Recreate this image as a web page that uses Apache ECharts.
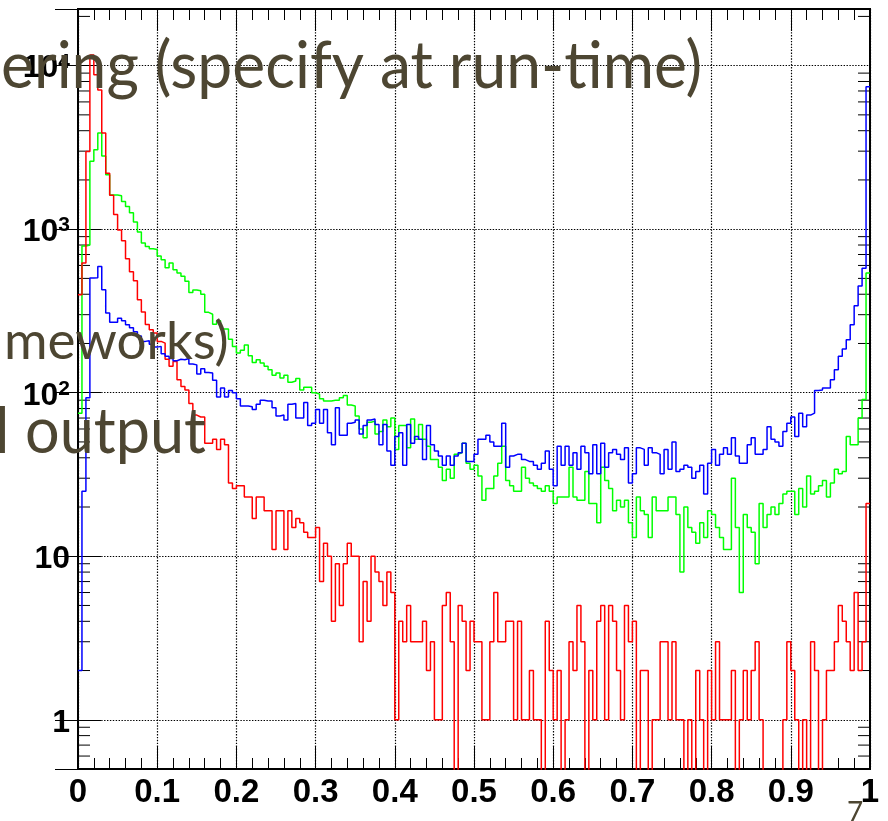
<!DOCTYPE html>
<html>
<head>
<meta charset="utf-8">
<script src="https://cdn.jsdelivr.net/npm/echarts@6/dist/echarts.min.js"></script>
<style>
  html, body { margin: 0; padding: 0; background: #ffffff; }
  #chart { width: 888px; height: 821px; }
</style>
</head>
<body>
<div id="chart"></div>
<script>
// 200 bins of width 0.005 on [0, 1]; counts per bin for the three histograms
const binWidth = 0.005;

const redCounts = [
  397, 621, 2980, 11600, 8800, 7100, 3870, 2200, 1610, 1230, 990, 850, 660, 550, 483, 370, 312, 261, 243, 232,
  206, 201, 160, 145, 155, 120, 109, 104, 86, 73, 71, 71, 49, 49, 52, 45, 52, 48, 28, 26,
  27, 27, 23, 23, 17, 23, 23, 19, 19, 11, 19, 19, 11, 19, 15, 17, 16, 14, 13, 13,
  15, 7, 12, 10, 4, 9, 5, 9, 12, 10, 10, 3, 7, 4, 10, 8, 7, 5, 8, 6,
  1, 4, 3, 5, 3, 3, 3, 4, 2, 3, 1, 1, 5, 6, 3, 0, 5, 4, 2, 4,
  3, 3, 1, 1, 3, 6, 3, 3, 4, 4, 1, 4, 1, 1, 2, 1, 1, 0, 4, 2,
  1, 2, 0, 1, 3, 2, 5, 3, 0, 2, 1, 4, 5, 1, 5, 4, 2, 1, 5, 3,
  4, 0, 2, 2, 0, 1, 1, 3, 3, 1, 3, 1, 1, 0, 1, 0, 2, 1, 0, 2,
  1, 3, 1, 1, 1, 2, 0, 1, 2, 1, 2, 3, 1, 0, 0, 0, 0, 0, 1, 3,
  2, 1, 0, 1, 0, 3, 2, 0, 1, 2, 2, 3, 5, 4, 3, 2, 6, 2, 3, 21
];

const greenCounts = [
  75, 790, 800, 2600, 3060, 3870, 2800, 2150, 1620, 1620, 1600, 1475, 1375, 1260, 1105, 960, 822, 783, 760, 750,
  685, 650, 580, 620, 565, 540, 515, 480, 410, 425, 420, 400, 310, 302, 262, 275, 245, 245, 212, 192,
  175, 182, 196, 168, 153, 159, 152, 145, 138, 128, 132, 123, 128, 116, 118, 122, 104, 108, 108, 100,
  98, 92, 89, 89, 90, 90, 93, 96, 84, 83, 72, 60, 53, 66, 67, 56, 58, 68, 62, 70,
  45, 63, 63, 46, 69, 52, 64, 52, 47, 39, 39, 35, 29, 34, 30, 42, 43, 49, 37, 34,
  36, 31, 22, 26, 26, 31, 37, 47, 29, 27, 25, 25, 35, 30, 28, 27, 26, 25, 27, 25,
  21, 23, 23, 23, 35, 23, 22, 22, 33, 21, 21, 16, 35, 29, 26, 19, 22, 20, 22, 16,
  13, 23, 19, 18, 13, 23, 19, 19, 19, 23, 23, 18, 8, 20, 15, 14, 12, 16, 13, 19,
  18, 15, 13, 11, 11, 30, 15, 6, 18, 15, 14, 9, 21, 15, 18, 20, 18, 21, 24, 25,
  25, 18, 26, 20, 31, 24, 25, 27, 29, 23, 28, 34, 32, 33, 54, 48, 48, 70, 91, 540
];

const blueCounts = [
  2, 25, 93, 502, 505, 591, 426, 307, 270, 270, 285, 275, 260, 250, 236, 222, 206, 208, 198, 190,
  192, 173, 167, 162, 157, 160, 159, 162, 150, 148, 130, 140, 133, 132, 119, 94, 107, 94, 103, 100,
  92, 83, 83, 82, 79, 85, 90, 89, 89, 81, 72, 73, 68, 85, 86, 70, 70, 87, 63, 65,
  79, 65, 79, 57, 48, 81, 55, 55, 65, 66, 68, 56, 63, 68, 69, 64, 48, 64, 44, 36,
  54, 57, 36, 64, 49, 54, 52, 39, 63, 48, 44, 41, 36, 41, 36, 41, 43, 49, 38, 38,
  42, 52, 52, 55, 50, 47, 47, 65, 35, 41, 42, 42, 39, 38, 38, 36, 34, 37, 44, 34,
  27, 47, 36, 47, 36, 43, 34, 47, 43, 32, 48, 32, 49, 35, 43, 45, 42, 39, 46, 28,
  32, 46, 45, 36, 46, 43, 42, 32, 45, 34, 50, 33, 34, 36, 35, 30, 33, 36, 24, 37,
  45, 36, 42, 46, 42, 53, 41, 37, 37, 48, 53, 42, 42, 45, 62, 52, 50, 47, 58, 65,
  71, 54, 75, 62, 73, 75, 103, 104, 107, 107, 120, 138, 167, 185, 211, 260, 340, 450, 577, 7440
];

// axis tick labels
const xTickLabels = ['0', '0.1', '0.2', '0.3', '0.4', '0.5', '0.6', '0.7', '0.8', '0.9', '1'];
const yTickBases = ['1', '10', '10', '10', '10'];
const yTickExponents = ['', '', '2', '3', '4'];
// minor tick positions on the logarithmic axis
const yMinorTicks = [
  0.6, 0.7, 0.8, 0.9,
  2, 3, 4, 5, 6, 7, 8, 9,
  20, 30, 40, 50, 60, 70, 80, 90,
  200, 300, 400, 500, 600, 700, 800, 900,
  2000, 3000, 4000, 5000, 6000, 7000, 8000, 9000,
  20000
];

// Empty bins are sent below the frame so the outline drops out of view
const EMPTY_LEVEL = 0.1;

function histogramOutline(counts) {
  const pts = counts.map((c, i) => [i * binWidth, c > 0 ? c : EMPTY_LEVEL]);
  pts.push([counts.length * binWidth, pts[pts.length - 1][1]]);
  return pts;
}

const axisFont = '"Liberation Sans", Arial, Helvetica, sans-serif';
const slideFont = 'Lato, "Open Sans", sans-serif';
const slideColor = '#4d4632';

const majorTickX = { show: true, inside: true, length: 22, lineStyle: { color: '#000', width: 1 } };
const minorTickX = { show: true, splitNumber: 5, length: 11, lineStyle: { color: '#000', width: 1 } };
const majorTickY = { show: true, inside: true, length: 23, lineStyle: { color: '#000', width: 1 } };
const gridDots = { show: true, lineStyle: { color: '#000', width: 1.2, type: [1.4, 1.5] } };

const Y_MIN = 0.5;
const Y_MAX = 22200;

function histSeries(name, counts, color) {
  return {
    name: name,
    type: 'line',
    step: 'end',
    data: histogramOutline(counts),
    symbol: 'none',
    clip: true,
    silent: true,
    animation: false,
    lineStyle: { color: color, width: 1.5 },
    z: 5
  };
}

const chart = echarts.init(document.getElementById('chart'), null, { renderer: 'canvas' });

chart.setOption({
  animation: false,
  backgroundColor: '#ffffff',
  grid: {
    left: 78, right: 18, top: 9, bottom: 52,
    show: true, borderColor: '#000', borderWidth: 2, backgroundColor: 'transparent'
  },
  xAxis: [
    {
      type: 'value', min: 0, max: 1, interval: 0.1, position: 'bottom',
      axisLine: { show: false },
      axisTick: majorTickX,
      minorTick: minorTickX,
      splitLine: gridDots,
      axisLabel: {
        margin: 7, color: '#000', fontFamily: axisFont, fontWeight: 'bold', fontSize: 33,
        formatter: v => xTickLabels[Math.round(v * 10)]
      }
    },
    {
      type: 'value', min: 0, max: 1, interval: 0.1, position: 'top',
      axisLine: { show: false },
      axisTick: majorTickX,
      minorTick: minorTickX,
      splitLine: { show: false },
      axisLabel: { show: false }
    }
  ],
  yAxis: [
    {
      type: 'log', logBase: 10, min: Y_MIN, max: Y_MAX, position: 'left',
      axisLine: { show: false },
      axisTick: majorTickY,
      splitLine: gridDots,
      axisLabel: {
        margin: 8, color: '#000', fontFamily: axisFont, fontWeight: 'bold', fontSize: 32,
        padding: [6, 0, 0, 0],
        showMinLabel: false, showMaxLabel: false,
        formatter: v => {
          const e = Math.log10(v);
          const k = Math.round(e);
          if (Math.abs(e - k) > 1e-6 || k < 0 || k >= yTickBases.length) return '';
          if (!yTickExponents[k]) return yTickBases[k];
          return '{b|' + yTickBases[k] + '}{s|' + yTickExponents[k] + '}';
        },
        rich: {
          b: { fontFamily: axisFont, fontWeight: 'bold', fontSize: 32, color: '#000', lineHeight: 34 },
          s: { fontFamily: axisFont, fontWeight: 'bold', fontSize: 21, color: '#000', lineHeight: 16, verticalAlign: 'top' }
        }
      }
    },
    {
      type: 'log', logBase: 10, min: Y_MIN, max: Y_MAX, position: 'right',
      axisLine: { show: false },
      axisTick: majorTickY,
      splitLine: { show: false },
      axisLabel: { show: false }
    }
  ],
  series: [
    histSeries('green', greenCounts, '#00ff00'),
    histSeries('red', redCounts, '#ff0000'),
    histSeries('blue', blueCounts, '#0000ff'),
    {
      // short minor ticks on both vertical frame edges
      type: 'custom',
      xAxisIndex: 0, yAxisIndex: 0,
      silent: true, clip: false, z: 4,
      data: yMinorTicks.map(v => [0, v]),
      renderItem: (params, api) => {
        const v = api.value(1);
        const left = api.coord([0, v]);
        const right = api.coord([1, v]);
        return {
          type: 'group',
          children: [
            { type: 'line', shape: { x1: left[0], y1: left[1], x2: left[0] + 12, y2: left[1] }, style: { stroke: '#000', lineWidth: 1 } },
            { type: 'line', shape: { x1: right[0] - 12, y1: right[1], x2: right[0], y2: right[1] }, style: { stroke: '#000', lineWidth: 1 } }
          ]
        };
      }
    }
  ],
  graphic: [
    { type: 'text', x: 1, y: 67, scaleX: 0.945, z: 100, silent: true,
      style: { text: 'ering (specify at run-time)', fontFamily: slideFont, fontSize: 66, fill: slideColor, verticalAlign: 'middle', align: 'left' } },
    { type: 'text', x: 4, y: 342, z: 100, silent: true,
      style: { text: 'meworks)', fontFamily: slideFont, fontSize: 53, fill: slideColor, verticalAlign: 'middle', align: 'left' } },
    { type: 'text', x: -5, y: 433, scaleX: 0.97, z: 100, silent: true,
      style: { text: 'l output', fontFamily: slideFont, fontSize: 63, fill: slideColor, verticalAlign: 'middle', align: 'left' } },
    { type: 'text', x: 847, y: 813, z: 100, silent: true,
      style: { text: '7', fontFamily: slideFont, fontSize: 28, fill: slideColor, verticalAlign: 'middle', align: 'left' } }
  ]
});
</script>
</body>
</html>
